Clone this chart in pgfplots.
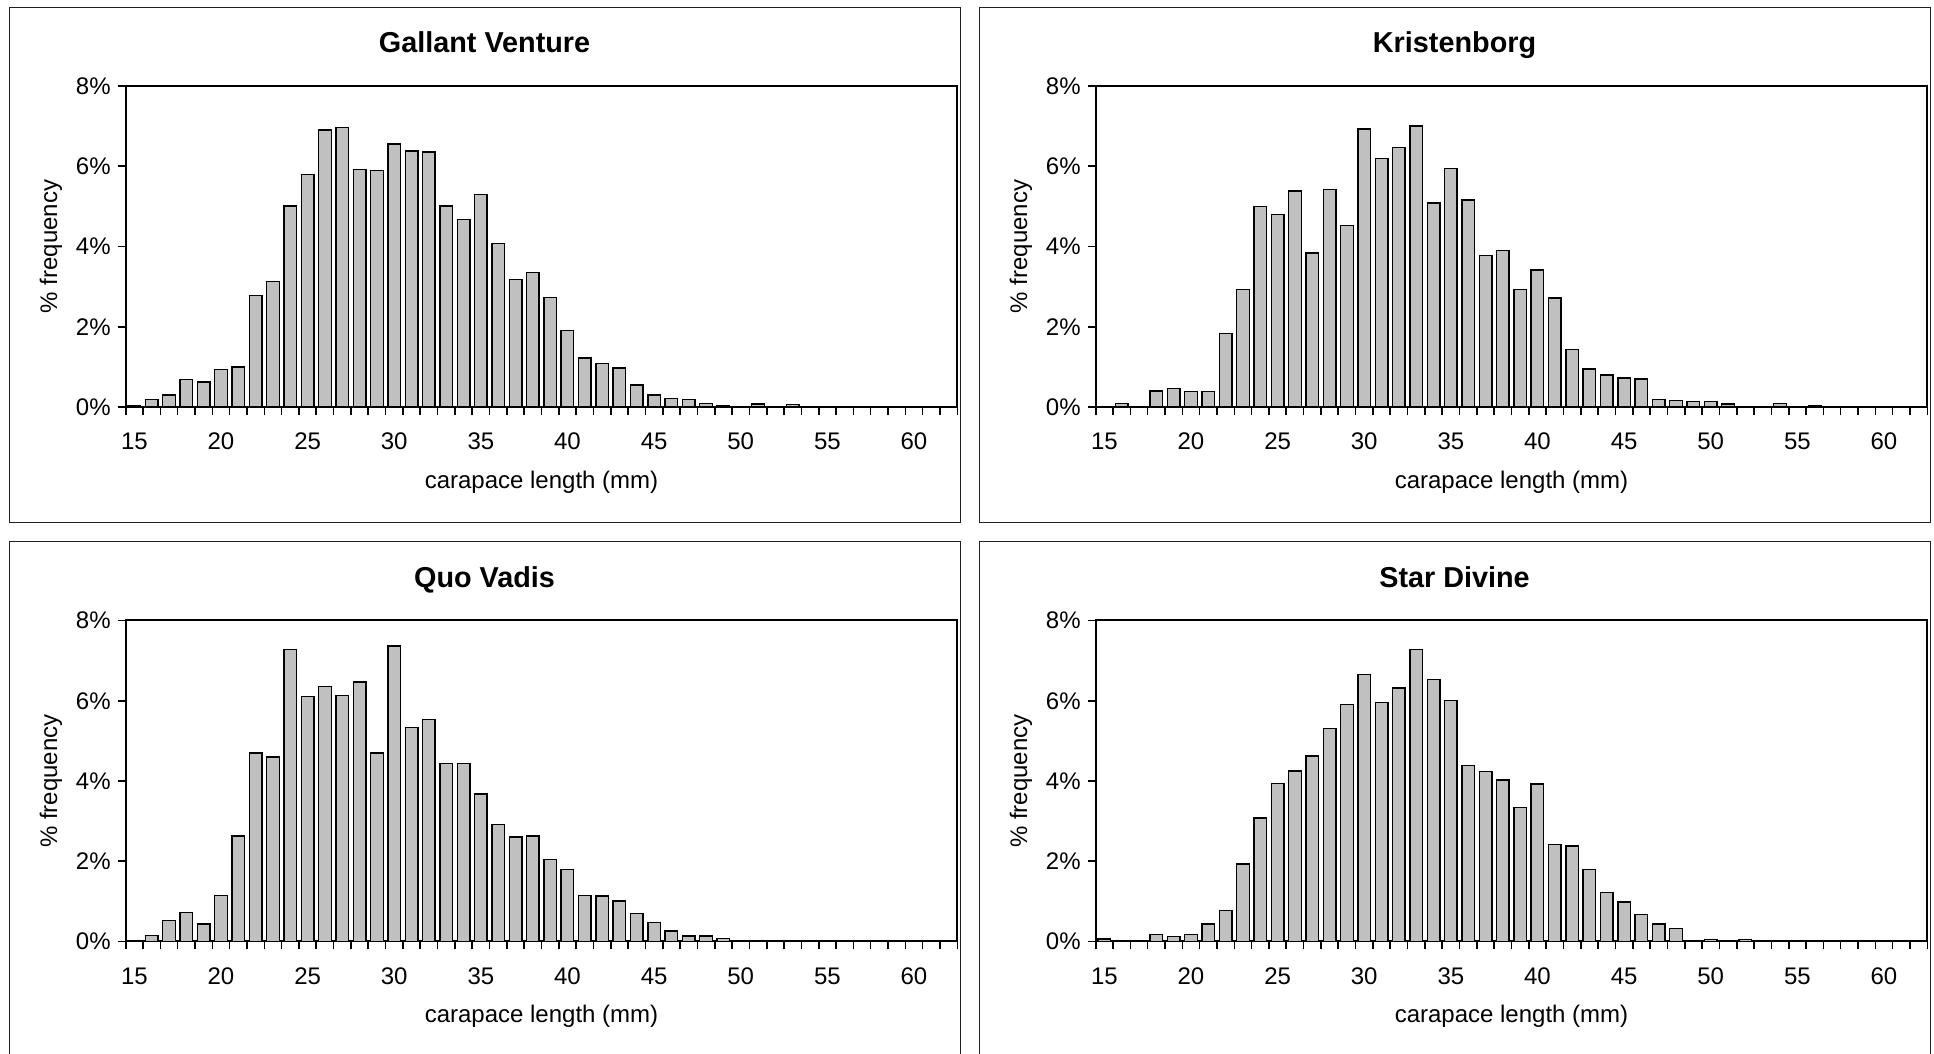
\documentclass[border=0pt]{standalone}
\usepackage{fontspec}
\setmainfont{Liberation Sans}
\usepackage{pgfplots}
\usepackage{pgfplotstable}
\pgfplotsset{compat=1.18}
\definecolor{barfill}{HTML}{C0C0C0}
\definecolor{framec}{HTML}{202020}

\pgfplotstableread{
x y
15 0.03
16 0.19
17 0.30
18 0.68
19 0.62
20 0.93
21 1.00
22 2.78
23 3.13
24 5.01
25 5.80
26 6.90
27 6.97
28 5.92
29 5.90
30 6.55
31 6.38
32 6.35
33 5.01
34 4.68
35 5.29
36 4.07
37 3.18
38 3.35
39 2.73
40 1.91
41 1.22
42 1.09
43 0.97
44 0.55
45 0.30
46 0.21
47 0.18
48 0.08
49 0.03
51 0.07
53 0.06
}\gallant

\pgfplotstableread{
x y
16 0.08
18 0.40
19 0.46
20 0.38
21 0.38
22 1.83
23 2.93
24 5.00
25 4.79
26 5.38
27 3.84
28 5.42
29 4.53
30 6.93
31 6.20
32 6.47
33 7.00
34 5.08
35 5.95
36 5.16
37 3.77
38 3.90
39 2.93
40 3.41
41 2.72
42 1.43
43 0.95
44 0.80
45 0.72
46 0.70
47 0.19
48 0.16
49 0.13
50 0.14
51 0.07
54 0.08
56 0.02
}\kristenborg

\pgfplotstableread{
x y
16 0.15
17 0.52
18 0.72
19 0.44
20 1.15
21 2.63
22 4.70
23 4.60
24 7.28
25 6.11
26 6.36
27 6.13
28 6.47
29 4.70
30 7.36
31 5.33
32 5.53
33 4.43
34 4.43
35 3.68
36 2.92
37 2.60
38 2.63
39 2.04
40 1.79
41 1.15
42 1.13
43 1.01
44 0.70
45 0.48
46 0.26
47 0.14
48 0.14
49 0.07
}\quovadis

\pgfplotstableread{
x y
15 0.06
18 0.18
19 0.12
20 0.18
21 0.44
22 0.77
23 1.93
24 3.08
25 3.94
26 4.25
27 4.62
28 5.31
29 5.91
30 6.66
31 5.96
32 6.32
33 7.28
34 6.53
35 6.00
36 4.38
37 4.23
38 4.02
39 3.34
40 3.93
41 2.41
42 2.38
43 1.80
44 1.22
45 0.98
46 0.67
47 0.44
48 0.33
50 0.05
52 0.05
54 0.02
}\stardivine

\pgfplotsset{
  panel/.style={
    scale only axis, width=415.8pt, height=160.5pt, anchor=south west,
    xmin=14.5, xmax=62.5, ymin=0, ymax=8,
    axis line style={line width=1pt, black},
    xtick={14.5,15.5,...,62.5}, xticklabels={},
    extra x ticks={15,20,...,60},
    extra x tick labels={15,20,25,30,35,40,45,50,55,60},
    extra x tick style={major tick length=0pt},
    ytick={0,2,4,6,8}, yticklabels={0\%,2\%,4\%,6\%,8\%},
    xtick pos=left, ytick pos=left,
    tick align=outside,
    major tick length=4pt,
    tick style={line width=0.8pt, black},
    tick label style={font=\fontsize{12}{14.4}\selectfont},
    xticklabel style={anchor=base, yshift=-21.5pt},
    every axis title shift=0pt,
    title style={at={(axis description cs:0.4315,1.1034)}, anchor=base,
      font=\bfseries\fontsize{14.4}{17}\selectfont},
    xlabel style={at={(axis description cs:0.5,-0.2533)}, anchor=base,
      font=\fontsize{12}{14.4}\selectfont},
    ylabel style={at={(axis description cs:-0.0898,0.5)}, anchor=center,
      font=\fontsize{12}{14.4}\selectfont},
    xlabel={carapace length (mm)},
    ylabel={\% frequency},
    clip=false,
  },
  bars/.style={ybar, bar width=6.3pt, bar shift=0pt, fill=barfill, draw=black, line width=0.7pt},
}

\begin{document}
\begin{tikzpicture}
\useasboundingbox (0,0) rectangle (967pt,527pt);
\fill[white] (0,0) rectangle (967pt,527pt);
\draw[framec, line width=0.5pt] (4.5pt,265.65pt) rectangle (480pt,523.35pt);
\draw[framec, line width=0.5pt] (489.5pt,265.65pt) rectangle (965pt,523.35pt);
\draw[framec, line width=0.5pt] (4.5pt,-3pt) rectangle (480pt,256pt);
\draw[framec, line width=0.5pt] (489.5pt,-3pt) rectangle (965pt,256pt);

\begin{axis}[panel, at={(62.85pt,323.5pt)}, title={Gallant Venture}]
\addplot[bars] table {\gallant};
\end{axis}
\begin{axis}[panel, at={(547.85pt,323.5pt)}, title={Kristenborg}]
\addplot[bars] table {\kristenborg};
\end{axis}
\begin{axis}[panel, at={(62.85pt,56.25pt)}, title={Quo Vadis}]
\addplot[bars] table {\quovadis};
\end{axis}
\begin{axis}[panel, at={(547.85pt,56.25pt)}, title={Star Divine}]
\addplot[bars] table {\stardivine};
\end{axis}
\end{tikzpicture}
\end{document}
